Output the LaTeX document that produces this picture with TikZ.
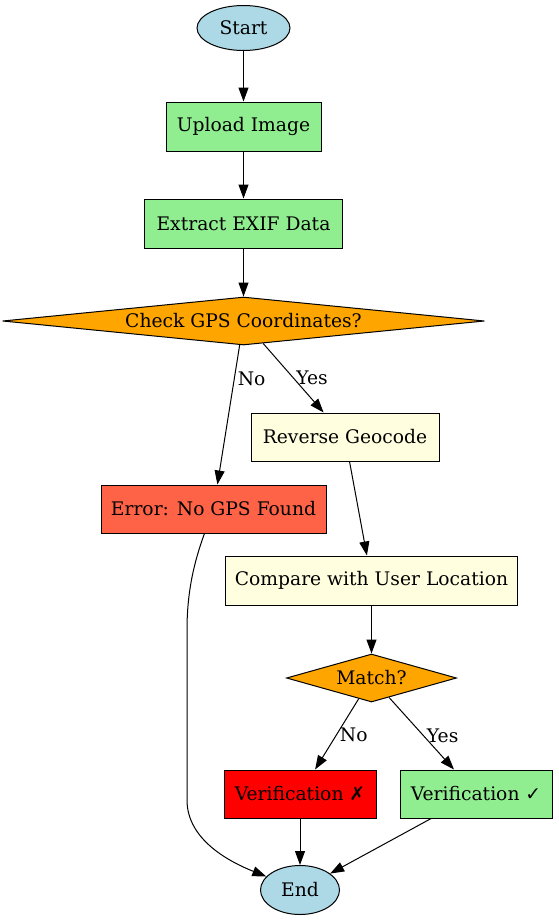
\documentclass[tikz,border=0pt]{standalone}
\usepackage{fontspec}
\setmainfont{DejaVu Serif}
\newfontfamily\symfont{DejaVu Sans}
\usetikzlibrary{shapes.geometric,arrows.meta}

\definecolor{termblue}{HTML}{ADD8E6}
\definecolor{stepgreen}{HTML}{90EE90}
\definecolor{decorange}{HTML}{FFA500}
\definecolor{geoyellow}{HTML}{FFFFE0}
\definecolor{errtomato}{HTML}{FF6347}
\definecolor{failred}{HTML}{FF0000}

\tikzset{
  terminal/.style={ellipse, draw, fill=termblue, inner sep=0pt},
  process/.style={rectangle, draw, minimum height=49pt, inner sep=0pt},
  decision/.style={diamond, draw, fill=decorange, minimum height=48pt, inner sep=0pt},
  flow/.style={-{Triangle[length=14pt,width=10pt]}},
  edgelabel/.style={inner sep=3pt}
}

\begin{document}
\begin{tikzpicture}[x=1pt, y=1pt, line width=1pt, font=\fontsize{18.7}{22}\selectfont]
  \useasboundingbox (0,0) rectangle (558,-921);

  \node[terminal, minimum width=93pt, minimum height=45pt] (start) at (243.5,-28) {Start};
  \node[process, fill=stepgreen, minimum width=155pt] (upload) at (243.5,-126.5) {Upload Image};
  \node[process, fill=stepgreen, minimum width=198pt] (exif) at (243.5,-223.5) {Extract EXIF Data};
  \node[decision, aspect=10, minimum width=482pt] (gps) at (243.5,-321) {Check GPS Coordinates?};
  \node[process, fill=geoyellow, minimum width=188pt, minimum height=48pt] (geo) at (345,-437) {Reverse Geocode};
  \node[process, fill=errtomato, minimum width=225pt, minimum height=48pt] (err) at (213.5,-509) {Error: No GPS Found};
  \node[process, fill=geoyellow, minimum width=292pt] (cmp) at (371.5,-580.5) {Compare with User Location};
  \node[decision, aspect=3.5, minimum width=170pt] (match) at (371.5,-678) {Match?};
  \node[process, fill=failred, minimum width=152pt, minimum height=48pt] (vfail) at (300,-794) {Verification {\symfont ✗}};
  \node[process, fill=stepgreen, minimum width=152pt, minimum height=48pt] (vok) at (476,-794) {Verification {\symfont ✓}};
  \node[terminal, minimum width=79pt, minimum height=49pt] (end) at (300,-890) {End};

  \draw[flow] (start) -- (upload);
  \draw[flow] (upload) -- (exif);
  \draw[flow] (exif) -- (gps);
  \draw[flow] (gps) -- node[edgelabel, pos=0.24, right] {No} (err);
  \draw[flow] (gps) -- node[edgelabel, pos=0.49, right] {Yes} (geo);
  \draw[flow] (geo) -- (cmp);
  \draw[flow] (cmp) -- (match);
  \draw[flow] (match) -- node[edgelabel, pos=0.51, right] {No} (vfail);
  \draw[flow] (match) -- node[edgelabel, pos=0.53, right] {Yes} (vok);
  \draw[flow] (vfail) -- (end);
  \draw[flow] (vok) -- (end);
  \draw[flow] (err) .. controls (194,-562) and (187,-592) .. (187,-630) -- (187,-800) .. controls (187,-840) and (230,-862) .. (end);
\end{tikzpicture}
\end{document}
